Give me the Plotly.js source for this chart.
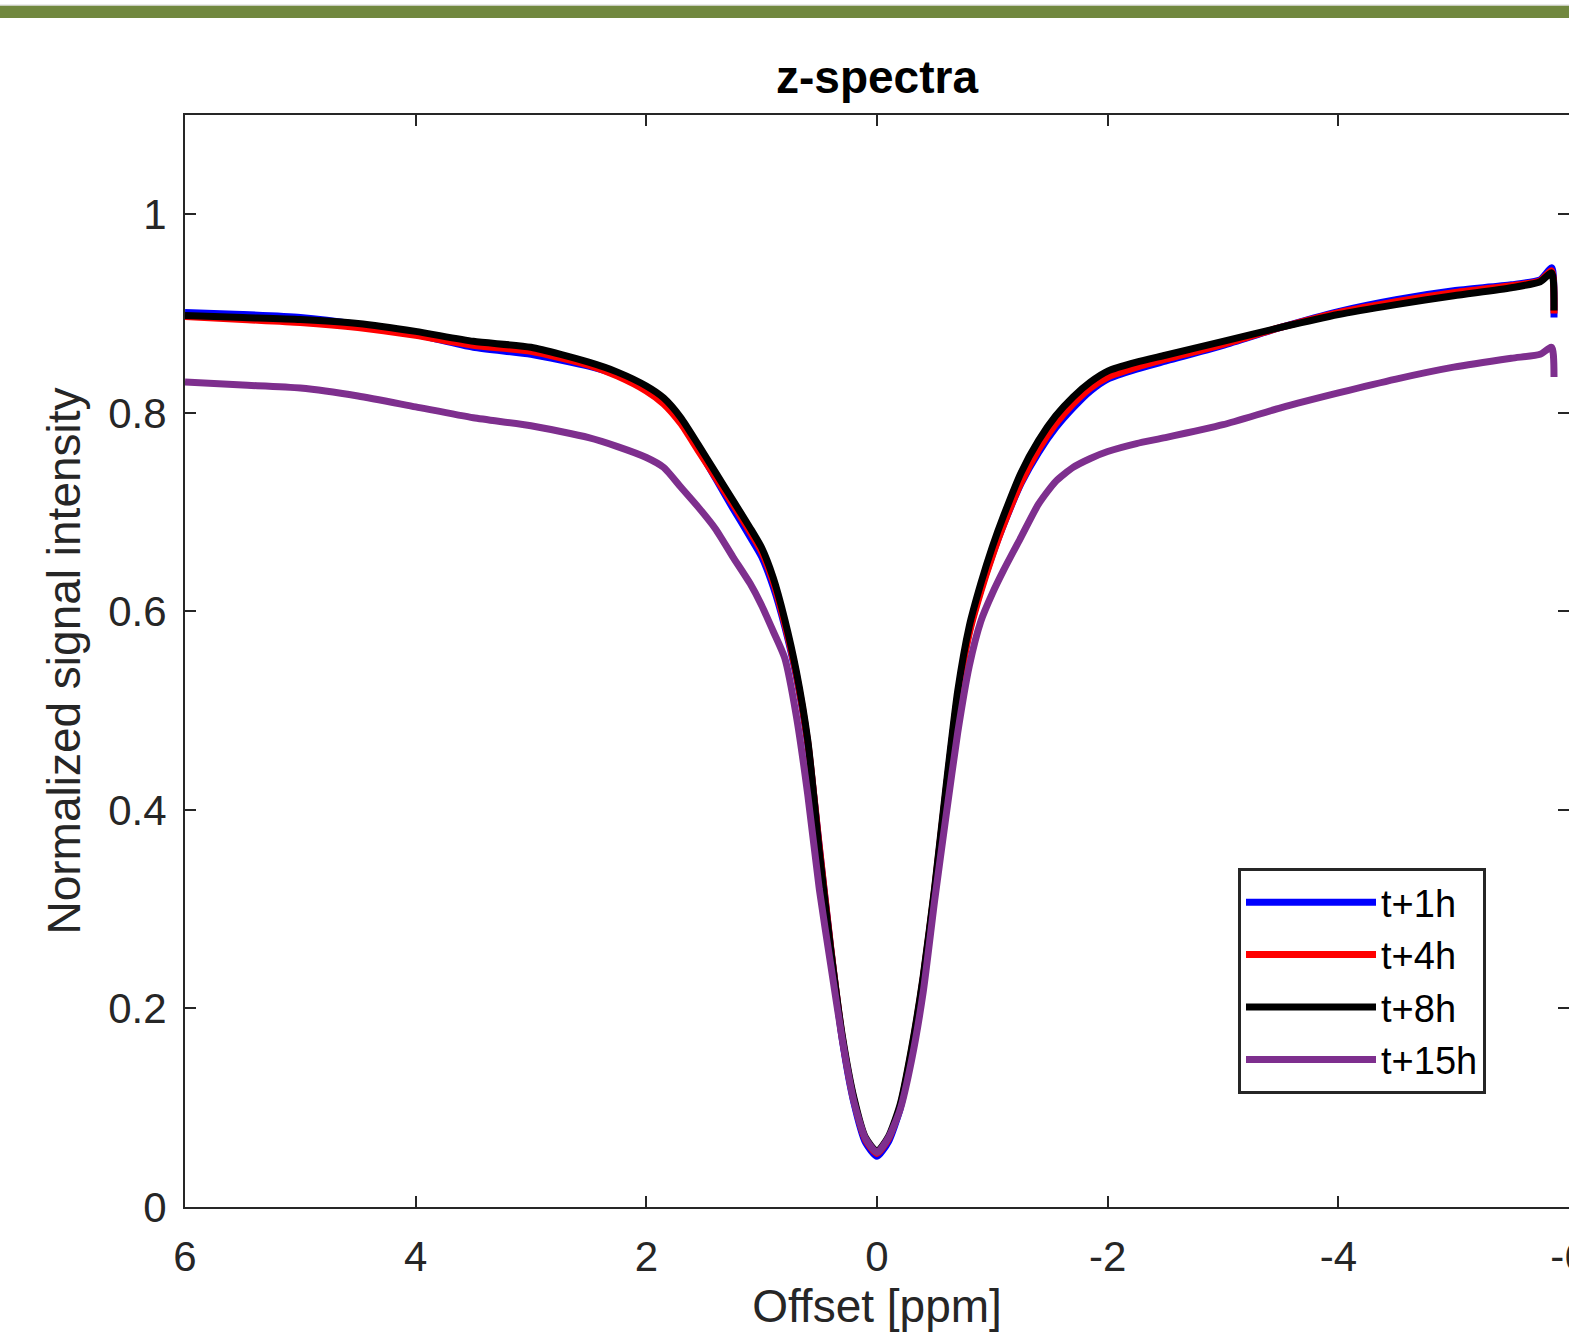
<!DOCTYPE html>
<html>
<head>
<meta charset="utf-8">
<script src="https://cdn.plot.ly/plotly-3.0.1.min.js"></script>
<style>
  html, body { margin: 0; padding: 0; background: #ffffff; }
  #chart { width: 1569px; height: 1332px; }
</style>
</head>
<body>
<div id="chart"></div>
<script>
// Offset in ppm (shared grid for all four spectra)
const offsetPpm = [6.0, 5.5, 5.0, 4.5, 4.0, 3.5, 3.0, 2.5, 2.25, 2.0, 1.85, 1.7, 1.55, 1.4, 1.25, 1.1, 1.0, 0.9, 0.8, 0.7, 0.6, 0.5, 0.4, 0.3, 0.2, 0.1, 0.0,
  -0.1, -0.2, -0.3, -0.4, -0.5, -0.6, -0.7, -0.8, -0.9, -1.0, -1.1, -1.25, -1.4, -1.55, -1.7, -1.85, -2.0, -2.25, -2.5, -3.0, -3.5, -4.0, -4.5, -5.0, -5.5, -5.75, -5.85, -5.87];

const zT1 = [0.901, 0.899, 0.896, 0.889, 0.879, 0.866, 0.859, 0.847, 0.838, 0.824, 0.812, 0.791, 0.764, 0.734, 0.704, 0.675, 0.655, 0.625, 0.585, 0.535, 0.466, 0.362, 0.259, 0.168, 0.105, 0.065, 0.051,
  0.066, 0.099, 0.156, 0.229, 0.318, 0.420, 0.515, 0.580, 0.622, 0.657, 0.688, 0.729, 0.760, 0.785, 0.805, 0.822, 0.834, 0.844, 0.852, 0.868, 0.886, 0.902, 0.914, 0.923, 0.929, 0.934, 0.946, 0.896];

const zT4 = [0.897, 0.894, 0.891, 0.886, 0.878, 0.868, 0.862, 0.848, 0.837, 0.822, 0.809, 0.789, 0.762, 0.735, 0.708, 0.680, 0.660, 0.630, 0.588, 0.537, 0.468, 0.363, 0.260, 0.170, 0.108, 0.068, 0.054,
  0.069, 0.101, 0.158, 0.230, 0.320, 0.421, 0.514, 0.578, 0.620, 0.656, 0.688, 0.730, 0.763, 0.789, 0.809, 0.825, 0.836, 0.846, 0.854, 0.869, 0.886, 0.901, 0.912, 0.921, 0.928, 0.933, 0.943, 0.900];

const zT8 = [0.898, 0.896, 0.894, 0.890, 0.882, 0.872, 0.866, 0.851, 0.841, 0.827, 0.815, 0.795, 0.768, 0.740, 0.712, 0.684, 0.664, 0.634, 0.592, 0.540, 0.470, 0.358, 0.258, 0.172, 0.110, 0.070, 0.056,
  0.071, 0.103, 0.160, 0.232, 0.322, 0.425, 0.520, 0.585, 0.628, 0.665, 0.697, 0.740, 0.772, 0.797, 0.816, 0.831, 0.842, 0.851, 0.858, 0.872, 0.886, 0.899, 0.909, 0.918, 0.926, 0.932, 0.941, 0.903];

const zT15 = [0.831, 0.828, 0.825, 0.817, 0.806, 0.795, 0.787, 0.775, 0.766, 0.755, 0.745, 0.725, 0.705, 0.683, 0.655, 0.628, 0.606, 0.580, 0.553, 0.495, 0.415, 0.320, 0.243, 0.168, 0.106, 0.069, 0.055,
  0.070, 0.098, 0.148, 0.216, 0.309, 0.395, 0.478, 0.545, 0.590, 0.618, 0.642, 0.675, 0.708, 0.731, 0.745, 0.754, 0.761, 0.769, 0.775, 0.788, 0.805, 0.820, 0.834, 0.846, 0.855, 0.859, 0.866, 0.836];

const seriesNames = ['t+1h', 't+4h', 't+8h', 't+15h'];
const seriesColors = ['#0000ff', '#ff0000', '#000000', '#7e2f8e'];
const seriesValues = [zT1, zT4, zT8, zT15];

const xTickVals = [6, 4, 2, 0, -2, -4, -6];
const xTickText = ['6', '4', '2', '0', '-2', '-4', '-6'];
const yTickVals = [0, 0.2, 0.4, 0.6, 0.8, 1];
const yTickText = ['0', '0.2', '0.4', '0.6', '0.8', '1'];

const FONT = 'Liberation Sans, Arial, Helvetica, sans-serif';
const AXC = '#262626';

const traces = seriesValues.map((vals, i) => ({
  x: offsetPpm,
  y: vals,
  type: 'scatter',
  mode: 'lines',
  name: seriesNames[i],
  line: { color: seriesColors[i], width: 7, shape: 'spline', smoothing: 0.6 }
}));

const layout = {
  width: 1569,
  height: 1332,
  margin: { l: 185, r: 0, t: 115, b: 125, pad: 0 },
  paper_bgcolor: '#ffffff',
  plot_bgcolor: '#ffffff',
  font: { family: FONT, color: AXC },
  title: {
    text: '<b>z-spectra</b>',
    font: { family: FONT, size: 46, color: '#000000' },
    xref: 'paper', x: 0.5, xanchor: 'center',
    yref: 'container', y: 1 - 77 / 1332, yanchor: 'middle'
  },
  xaxis: {
    range: [6, -6],
    tickvals: xTickVals,
    ticktext: xTickText,
    ticks: 'inside',
    ticklen: 11,
    tickwidth: 2,
    tickcolor: AXC,
    showline: true,
    linewidth: 2,
    linecolor: AXC,
    mirror: 'ticks',
    showgrid: false,
    zeroline: false,
    tickfont: { family: FONT, size: 42, color: AXC },
    ticklabelstandoff: 12,
    ticklabeloverflow: 'allow',
    title: { text: 'Offset [ppm]', font: { family: FONT, size: 46, color: AXC }, standoff: 31 }
  },
  yaxis: {
    range: [0, 1.1],
    tickvals: yTickVals,
    ticktext: yTickText,
    ticks: 'inside',
    ticklen: 11,
    tickwidth: 2,
    tickcolor: AXC,
    showline: true,
    linewidth: 2,
    linecolor: AXC,
    mirror: 'ticks',
    showgrid: false,
    zeroline: false,
    tickfont: { family: FONT, size: 42, color: AXC },
    ticklabelstandoff: 8,
    title: { text: 'Normalized signal intensity', font: { family: FONT, size: 46, color: AXC }, standoff: 13 }
  },
  showlegend: true,
  legend: {
    x: (1238 - 185) / 1384, xanchor: 'left',
    y: (1207 - 868) / 1092, yanchor: 'top',
    bgcolor: '#ffffff',
    bordercolor: AXC,
    borderwidth: 3,
    font: { family: FONT, size: 38, color: '#000000' },
    itemwidth: 130,
    tracegroupgap: 0
  },
  shapes: [
    { type: 'rect', xref: 'paper', yref: 'paper',
      x0: -185 / 1384, x1: 1, y0: (1207 - 18) / 1092, y1: (1207 - 5.5) / 1092,
      fillcolor: '#71883f', line: { width: 0 }, layer: 'above' },
    { type: 'line', xref: 'paper', yref: 'paper',
      x0: -185 / 1384, x1: 1, y0: (1207 - 5) / 1092, y1: (1207 - 5) / 1092,
      line: { color: '#d8d8d8', width: 1 } }
  ]
};

Plotly.newPlot('chart', traces, layout, { displayModeBar: false, staticPlot: true });
</script>
</body>
</html>
